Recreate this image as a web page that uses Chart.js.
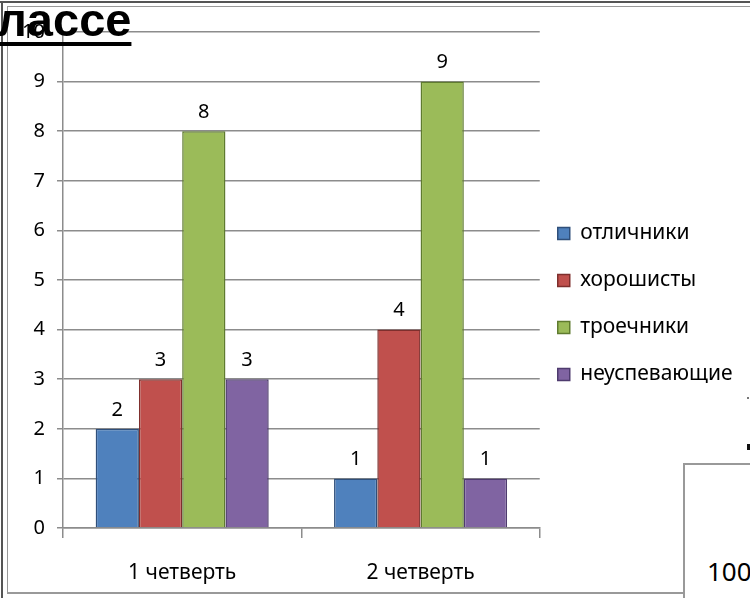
<!DOCTYPE html>
<html lang="ru">
<head>
    <meta charset="UTF-8">
    <title>Успеваемость по четвертям</title>
    <script src="https://cdn.jsdelivr.net/npm/chart.js"></script>
    <style>
        body {
            margin: 0;
            background-color: #ffffff;
            font-family: "Noto Sans", sans-serif;
        }
        .slide {
            position: relative;
            width: 750px;
            height: 598px;
            overflow: hidden;
        }
        .line { position: absolute; }
        .titulo {
            position: absolute;
            left: -3px;
            top: -4px;
            font: bold 47px "Liberation Sans", Arial, sans-serif;
            line-height: 1;
            color: #000;
            text-decoration: underline;
            text-decoration-thickness: 4px;
            text-underline-offset: 6px;
            z-index: 5;
        }
        .numero {
            position: absolute;
            left: 707px;
            top: 558px;
            font-size: 26px;
            line-height: 1;
            color: #000;
        }
        #grafico {
            position: absolute;
            left: 0;
            top: 0;
        }
    </style>
</head>
<body>

<div class="slide">
    <div class="line" style="left:0;top:1px;width:750px;height:2px;background:#555;"></div>
    <div class="line" style="left:7px;top:6px;width:743px;height:1px;background:#999;"></div>
    <div class="line" style="left:1px;top:1px;width:2px;height:597px;background:#555;"></div>
    <div class="line" style="left:7px;top:6px;width:1px;height:587px;background:#999;"></div>
    <div class="line" style="left:7px;top:592px;width:677px;height:2px;background:#999;"></div>
    <div class="line" style="left:683px;top:463px;width:2px;height:135px;background:#999;"></div>
    <div class="line" style="left:683px;top:463px;width:67px;height:2px;background:#999;"></div>
    <div class="line" style="left:747px;top:397px;width:2px;height:2px;background:#777;"></div>
    <div class="line" style="left:747px;top:444px;width:3px;height:6px;background:#111;"></div>
    <div class="numero">100</div>

    <canvas id="grafico" width="750" height="598"></canvas>
    <div class="titulo">лассе</div>
</div>

<script>
    const quartos = ['1 четверть', '2 четверть'];
    const grupos = ['отличники', 'хорошисты', 'троечники', 'неуспевающие'];
    const otlichniki = [2, 1];
    const khoroshisty = [3, 4];
    const troechniki = [8, 9];
    const neuspevayushchie = [3, 1];
    const ticksY = [0, 1, 2, 3, 4, 5, 6, 7, 8, 9, 10];

    const cores = ['#4F81BD', '#C0504D', '#9BBB59', '#8064A2'];
    const bordas = ['#2F4F7A', '#7E2F2D', '#5F7B2F', '#4E3B6E'];
    const valores = [otlichniki, khoroshisty, troechniki, neuspevayushchie];

    const fonte = '"Noto Sans", sans-serif';

    // escreve o valor acima de cada barra
    const rotulos = {
        id: 'rotulos',
        afterDatasetsDraw(chart) {
            const ctx = chart.ctx;
            ctx.save();
            ctx.fillStyle = '#000';
            ctx.font = '20px ' + fonte;
            ctx.textAlign = 'center';
            ctx.textBaseline = 'bottom';
            chart.data.datasets.forEach((ds, i) => {
                chart.getDatasetMeta(i).data.forEach((bar, j) => {
                    ctx.fillText(ds.data[j], bar.x, bar.y - 9);
                });
            });
            ctx.restore();
        }
    };

    // aproxima a legenda da area do grafico
    const ajusteLegenda = {
        id: 'ajusteLegenda',
        afterLayout(chart) {
            const lg = chart.legend;
            lg.left = chart.chartArea.right - 8;
            lg.right = 750;
            lg.width = lg.right - lg.left;
            lg.top -= 11;
            lg.bottom -= 11;
        }
    };

    new Chart(document.getElementById('grafico'), {
        type: 'bar',
        data: {
            labels: quartos,
            datasets: grupos.map((nome, i) => ({
                label: nome,
                data: valores[i],
                backgroundColor: cores[i],
                borderColor: bordas[i],
                borderWidth: 1.5,
                categoryPercentage: 0.726,
                barPercentage: 1
            }))
        },
        options: {
            responsive: false,
            animation: false,
            layout: {
                padding: { left: 8, top: 32, right: 33, bottom: 0 }
            },
            plugins: {
                tooltip: { enabled: false },
                legend: {
                    position: 'right',
                    labels: {
                        color: '#000',
                        font: { family: fonte, size: 21 },
                        boxWidth: 12,
                        boxHeight: 12,
                        padding: 26
                    }
                }
            },
            scales: {
                x: {
                    afterFit(scale) { scale.height = 70; },
                    grid: {
                        offset: true,
                        drawOnChartArea: false,
                        tickLength: 10,
                        color: '#8c8c8c',
                        lineWidth: 1.5
                    },
                    border: { color: '#8c8c8c', width: 1.5 },
                    ticks: {
                        color: '#000',
                        padding: 22,
                        font: { family: fonte, size: 21 }
                    }
                },
                y: {
                    min: 0,
                    max: 10,
                    afterFit(scale) { scale.width = 55; },
                    afterBuildTicks(scale) {
                        scale.ticks = ticksY.map(v => ({ value: v }));
                    },
                    grid: {
                        color: '#8c8c8c',
                        lineWidth: 1.5,
                        tickLength: 6
                    },
                    border: { color: '#8c8c8c', width: 1.5 },
                    ticks: {
                        color: '#000',
                        padding: 12,
                        font: { family: fonte, size: 20 }
                    }
                }
            }
        },
        plugins: [rotulos, ajusteLegenda]
    });
</script>

</body>
</html>
